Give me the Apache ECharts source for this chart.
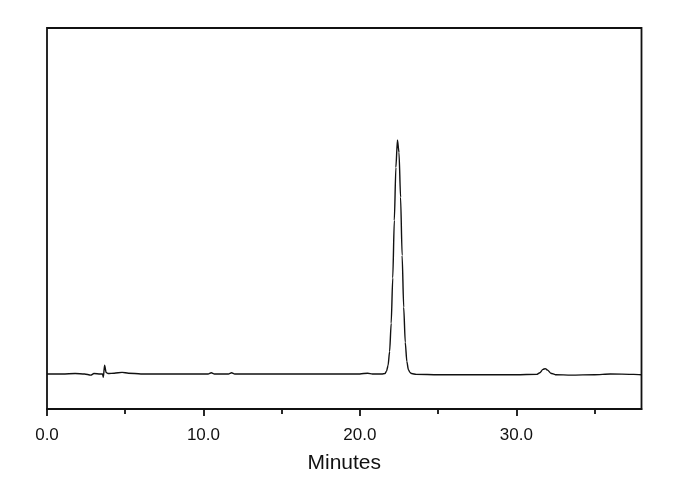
<!DOCTYPE html>
<html>
<head>
<meta charset="utf-8">
<script src="https://cdn.jsdelivr.net/npm/echarts@6/dist/echarts.min.js"></script>
<style>html,body{margin:0;padding:0;background:#fff;}#c{width:690px;height:490px;}</style>
</head>
<body>
<div id="c"></div>
<script>
// Retention time (minutes)
var times = [
  0.0, 1.0, 1.8, 2.4, 2.8, 3.0, 3.4, 3.55, 3.6, 3.68, 3.78, 3.9, 4.3, 4.8, 5.2, 6.0,
  8.0, 10.3, 10.5, 10.7, 11.6, 11.8, 12.0, 15.0, 18.0, 20.0, 20.5, 20.8, 21.4,
  21.6, 21.7, 21.8, 21.9, 22.0, 22.1, 22.2, 22.3, 22.4, 22.5, 22.6, 22.7, 22.8, 22.9,
  23.0, 23.1, 23.2, 23.3, 23.6, 25.0, 28.0, 30.0, 31.3, 31.5, 31.7, 31.85, 32.0, 32.2, 32.5,
  33.5, 35.0, 36.0, 37.5, 38.0
];
// Detector signal (arbitrary units)
var signal = [
  9.2, 9.2, 9.3, 9.2, 8.9, 9.3, 9.2, 9.2, 8.3, 11.5, 9.6, 9.3, 9.4, 9.6, 9.4, 9.2,
  9.2, 9.2, 9.5, 9.2, 9.2, 9.5, 9.2, 9.2, 9.2, 9.2, 9.4, 9.2, 9.2,
  9.3, 9.9, 11.4, 15.1, 22.5, 34.4, 49.5, 63.4, 70.6, 67.3, 55.6, 40.3, 26.7, 17.5,
  12.5, 10.3, 9.6, 9.3, 9.1, 9.0, 9.0, 9.0, 9.1, 9.5, 10.4, 10.6, 10.2, 9.4, 9.0,
  8.9, 9.0, 9.2, 9.1, 9.0
];
var majorTicks = [0, 10, 20, 30];
var minorTicks = [5, 15, 25, 35];
var xMin = 0, xMax = 38, yMin = 0, yMax = 100;

var data = times.map(function (t, i) { return [t, signal[i]]; });

var chart = echarts.init(document.getElementById('c'), null, { renderer: 'canvas' });
chart.setOption({
  animation: false,
  backgroundColor: '#ffffff',
  grid: {
    left: 47, right: 48.5, top: 28, bottom: 81,
    show: true, borderColor: '#111', borderWidth: 1.8, backgroundColor: 'transparent'
  },
  xAxis: [
    {
      type: 'value', min: xMin, max: xMax, position: 'bottom',
      name: 'Minutes', nameLocation: 'middle', nameGap: 44,
      nameTextStyle: { fontFamily: 'Liberation Sans, Arial, sans-serif', fontSize: 21, color: '#111' },
      axisLine: { show: true, lineStyle: { color: '#111', width: 1.8 } },
      axisTick: { show: true, length: 7, inside: false, customValues: majorTicks, lineStyle: { color: '#111', width: 1.8 } },
      axisLabel: {
        show: true, customValues: majorTicks, margin: 18,
        fontFamily: 'Liberation Sans, Arial, sans-serif', fontSize: 17, color: '#111',
        formatter: function (v) { return v.toFixed(1); }
      },
      splitLine: { show: false }
    },
    {
      type: 'value', min: xMin, max: xMax, position: 'bottom', offset: 0,
      axisLine: { show: false },
      axisTick: { show: true, length: 5, inside: false, customValues: minorTicks, lineStyle: { color: '#111', width: 1.8 } },
      axisLabel: { show: false },
      splitLine: { show: false }
    }
  ],
  yAxis: {
    type: 'value', min: yMin, max: yMax,
    axisLine: { show: false }, axisTick: { show: false },
    axisLabel: { show: false }, splitLine: { show: false }
  },
  series: [{
    type: 'line', xAxisIndex: 0, data: data, showSymbol: false, symbol: 'none',
    smooth: 0.25, smoothMonotone: 'x',
    lineStyle: { color: '#111', width: 1.4 }
  }]
});
</script>
</body>
</html>
